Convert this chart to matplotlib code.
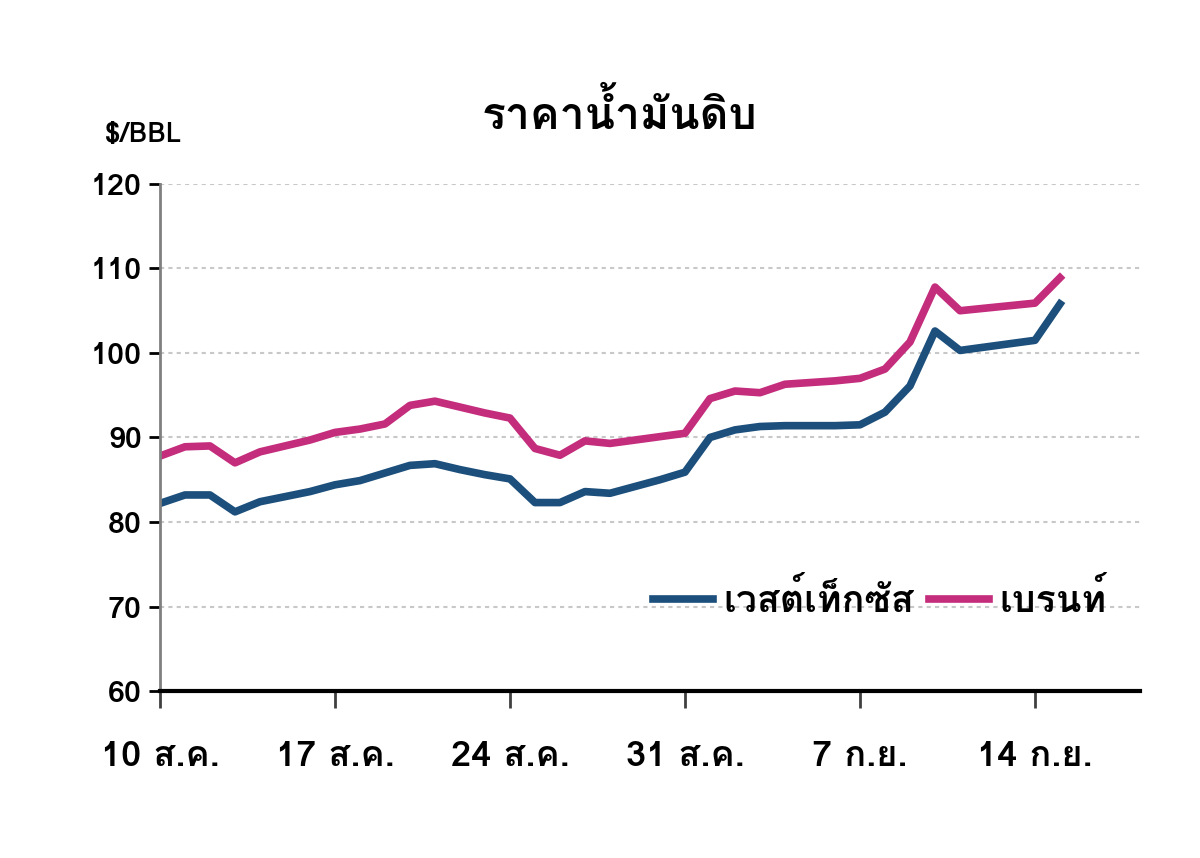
import matplotlib
matplotlib.use("Agg")
import matplotlib.pyplot as plt
from matplotlib import font_manager
from matplotlib.ft2font import FT2Font

# days since 10 Aug
DAYS = [0, 1, 2, 3, 4, 5, 6, 7, 8, 9, 10, 11, 12, 13, 14, 15, 16, 17, 18,
        19, 20, 21, 22, 23, 24, 25, 26, 27, 28, 29, 30, 31, 32, 33, 34, 35, 36]

WTI = [82.2, 83.2, 83.2, 81.2, 82.4, 83.0, 83.6, 84.4, 84.9, 85.8, 86.7, 86.9,
       86.2, 85.6, 85.1, 82.3, 82.3, 83.6, 83.4, 84.2, 85.0, 85.9, 90.0, 90.9,
       91.3, 91.4, 91.4, 91.4, 91.5, 93.0, 96.1, 102.6, 100.3, 100.7, 101.1,
       101.5, 105.8]

BRENT = [87.8, 88.9, 89.0, 87.0, 88.3, 89.0, 89.7, 90.6, 91.0, 91.6, 93.8, 94.3,
         93.6, 92.9, 92.3, 88.7, 87.9, 89.6, 89.3, 89.7, 90.1, 90.5, 94.6, 95.5,
         95.3, 96.3, 96.5, 96.7, 97.0, 98.1, 101.3, 107.8, 105.0, 105.3, 105.6,
         105.9, 108.9]

TICK_DAYS = [0, 7, 14, 21, 28, 35]
TICK_LABELS = ["10 ส.ค.", "17 ส.ค.", "24 ส.ค.", "31 ส.ค.", "7 ก.ย.", "14 ก.ย."]

TITLE = "ราคาน้ำมันดิบ"
UNIT = "$/BBL"
LABELS = {"wti": "เวสต์เท็กซัส", "brent": "เบรนท์"}
COLORS = {"wti": "#1c4f7c", "brent": "#c42c7c"}


def find_thai_font():
    for f in font_manager.fontManager.ttflist:
        try:
            cmap = FT2Font(f.fname).get_charmap()
        except Exception:
            continue
        if 0x0E23 in cmap and 0x0E49 in cmap:
            return f.name
    return None


installed = {f.name for f in font_manager.fontManager.ttflist}
thai = find_thai_font()
families = []
if "Liberation Sans Narrow" in installed:
    families.append("Liberation Sans Narrow")
if thai:
    families.append(thai)
families.append("DejaVu Sans")
plt.rcParams["font.family"] = families

fig = plt.figure(figsize=(12, 8.58), dpi=100)
ax = fig.add_axes([0.1333, 0.1946, 0.8167, 0.591])

ax.plot(DAYS, WTI, color=COLORS["wti"], lw=5.5, label=LABELS["wti"], solid_joinstyle="round")
ax.plot(DAYS, BRENT, color=COLORS["brent"], lw=5.5, label=LABELS["brent"], solid_joinstyle="round")

ax.set_xlim(0, 39.2)
ax.set_ylim(60, 120)
ax.set_yticks(range(60, 121, 10))
ax.set_xticks(TICK_DAYS)
ax.set_xticklabels(TICK_LABELS)

ax.grid(axis="y", linestyle=(0, (2, 2)), color="#c8c8c8", lw=1.5)
ax.set_axisbelow(True)

for s in ["top", "right"]:
    ax.spines[s].set_visible(False)
ax.spines["left"].set_color("#808080")
ax.spines["left"].set_linewidth(2)
ax.spines["bottom"].set_color("black")
ax.spines["bottom"].set_linewidth(3)

ax.tick_params(axis="y", length=8, width=2, color="black", pad=5, labelsize=22)
ax.tick_params(axis="x", length=12, width=2, color="#404040", pad=24, labelsize=26)
for lbl in ax.get_xticklabels() + ax.get_yticklabels():
    lbl.set_fontweight("bold")

fig.text(0.516, 0.868, TITLE, ha="center", va="center", fontsize=32, fontweight="bold")
fig.text(0.119, 0.843, UNIT, ha="center", va="center", fontsize=20, fontweight="bold")

leg = ax.legend(loc="lower right", bbox_to_anchor=(1.0, 0.075), ncol=2, frameon=False,
                fontsize=27, handlelength=1.6, handletextpad=0.27, columnspacing=0.4)
for t in leg.get_texts():
    t.set_fontweight("bold")

fig.savefig("out.png", dpi=100)
